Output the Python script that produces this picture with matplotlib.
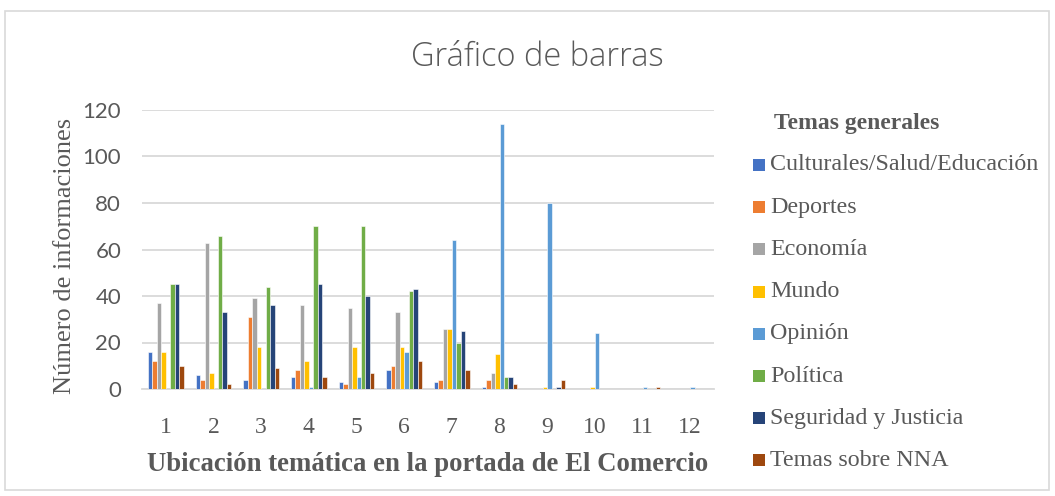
import matplotlib
matplotlib.use("Agg")
import matplotlib.pyplot as plt
from matplotlib.patches import Rectangle
import numpy as np

categories = ["1", "2", "3", "4", "5", "6", "7", "8", "9", "10", "11", "12"]
series_names = ["Culturales/Salud/Educación", "Deportes", "Economía", "Mundo",
                "Opinión", "Política", "Seguridad y Justicia", "Temas sobre NNA"]
colors = ["#4472C4", "#ED7D31", "#A5A5A5", "#FFC000",
          "#5B9BD5", "#70AD47", "#264478", "#9E480E"]

culturales = [16, 6, 4, 5, 3, 8, 3, 1, 0, 0, 0, 0]
deportes   = [12, 4, 31, 8, 2, 10, 4, 4, 0, 0, 0, 0]
economia   = [37, 63, 39, 36, 35, 33, 26, 7, 0, 0, 0, 0]
mundo      = [16, 7, 18, 12, 18, 18, 26, 15, 1, 1, 0, 0]
opinion    = [0, 0, 0, 1, 5, 16, 64, 114, 80, 24, 1, 1]
politica   = [45, 66, 44, 70, 70, 42, 20, 5, 0, 0, 0, 0]
seguridad  = [45, 33, 36, 45, 40, 43, 25, 5, 1, 0, 0, 0]
nna        = [10, 2, 9, 5, 7, 12, 8, 2, 4, 0, 1, 0]
series = [culturales, deportes, economia, mundo, opinion, politica, seguridad, nna]

W, H = 1055, 496
fig = plt.figure(figsize=(W / 100, H / 100), dpi=100)
fig.patch.set_facecolor("white")

text_color = "#595959"
grid_color = "#D9D9D9"
serif = ["Liberation Serif", "DejaVu Serif"]
sans = ["Lato", "DejaVu Sans"]

# outer frame
fig.patches.append(Rectangle((5 / W, 1 - 490 / H), 1044 / W, 479 / H,
                             transform=fig.transFigure, fill=False,
                             edgecolor=grid_color, linewidth=1.2))

ax = fig.add_axes([142 / W, 1 - 389 / H, (714 - 142) / W, (389 - 110) / H])
x = np.arange(len(categories))
n = len(series)
bw = 0.094
for i, (vals, c, name) in enumerate(zip(series, colors, series_names)):
    offs = (i - (n - 1) / 2) * bw
    ax.bar(x + offs, vals, width=bw, color=c, edgecolor="white",
           linewidth=0.4, label=name, zorder=3)

ax.set_xlim(-0.5, len(categories) - 0.5)
ax.set_ylim(0, 120)
ax.set_yticks(np.arange(0, 121, 20))
ax.set_xticks(x)
ax.set_xticklabels(categories, fontfamily=serif, fontsize=17, color=text_color)
for lbl in ax.get_yticklabels():
    lbl.set_fontfamily(sans)
    lbl.set_fontsize(16)
    lbl.set_color(text_color)
ax.tick_params(axis="both", length=0)
ax.tick_params(axis="x", pad=20)
ax.tick_params(axis="y", pad=15)
ax.grid(axis="y", color=grid_color, linewidth=1.3, zorder=0)
for s in ["top", "right", "left"]:
    ax.spines[s].set_visible(False)
ax.spines["bottom"].set_color(grid_color)
ax.spines["bottom"].set_linewidth(1.3)

ax.set_ylabel("Número de informaciones", fontfamily=serif, fontsize=19,
              color=text_color)
ax.yaxis.set_label_coords((76 - 142) / 572, (389 - 256) / 279)
ax.set_xlabel("Ubicación temática en la portada de El Comercio",
              fontfamily=serif, fontsize=19.3, fontweight="bold",
              color=text_color, labelpad=10)

fig.text(537 / W, 1 - 57 / H, "Gráfico de barras", ha="center", va="center",
         fontfamily=["Open Sans", "DejaVu Sans"], fontweight="light",
         fontsize=23.5, color=text_color)

# legend
fig.text(774 / W, 1 - 123 / H, "Temas generales", ha="left", va="center",
         fontfamily=serif, fontsize=17, fontweight="bold", color=text_color)
for i, (name, c) in enumerate(zip(series_names, colors)):
    yc = 165 + i * 42.2
    fig.patches.append(Rectangle((753 / W, 1 - (yc + 6) / H), 12 / W, 12 / H,
                                 transform=fig.transFigure, facecolor=c,
                                 edgecolor="none"))
    fig.text(770 / W, 1 - yc / H, name, ha="left", va="center",
             fontfamily=serif, fontsize=17.3, color=text_color)

fig.savefig("out.png", dpi=100)
